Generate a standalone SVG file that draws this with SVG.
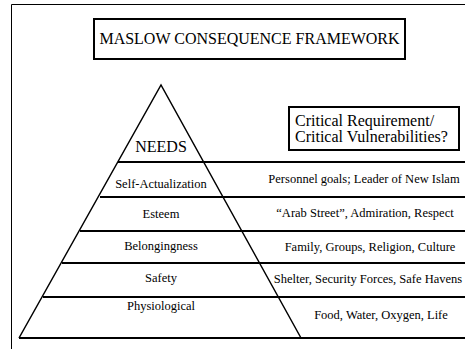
<svg xmlns="http://www.w3.org/2000/svg" width="465" height="349" viewBox="0 0 465 349">
<style>
text{font-family:'Liberation Serif','DejaVu Serif','Times New Roman',serif;fill:#000}
.big{font-size:16px}
.sm{font-size:12.5px}
.ln{stroke:#000;stroke-width:2;fill:none}
.box{stroke:#000;stroke-width:2;fill:#fff}
</style>
<rect width="465" height="349" fill="#fff"/>
<g id="frame"><path d="M11.5,349 V4.5 H465" stroke="#000" stroke-width="1" fill="none"/></g>
<g id="title">
<rect class="box" x="94" y="19" width="311" height="40"/>
<text class="big" x="249.5" y="44" text-anchor="middle" font-family="Liberation Serif, serif">MASLOW CONSEQUENCE FRAMEWORK</text>
</g>
<g id="critical">
<rect class="box" x="289" y="107" width="170" height="43"/>
<text class="big" x="295" y="126">Critical Requirement/</text>
<text class="big" x="295" y="142">Critical Vulnerabilities?</text>
</g>
<g id="connectors">
<path d="M19,338 L161,85 L301,338" stroke="#000" stroke-width="1.5" fill="none"/>
<path class="ln" d="M118,162 H465 M100,197 H465 M80,231 H465 M62,263 H465 M43,297 H465 M19,338 H465"/>
</g>
<g id="needs"><text class="big" x="161" y="152" text-anchor="middle">NEEDS</text></g>
<g id="self"><text class="sm" x="161" y="188" text-anchor="middle">Self-Actualization</text>
<text class="sm" x="364" y="183" text-anchor="middle">Personnel goals; Leader of New Islam</text></g>
<g id="esteem"><text class="sm" x="161" y="218" text-anchor="middle">Esteem</text>
<text class="sm" x="365" y="217" text-anchor="middle">“Arab Street”, Admiration, Respect</text></g>
<g id="belong"><text class="sm" x="161" y="250" text-anchor="middle">Belongingness</text>
<text class="sm" x="370" y="251" text-anchor="middle">Family, Groups, Religion, Culture</text></g>
<g id="safety"><text class="sm" x="161" y="282" text-anchor="middle">Safety</text>
<text class="sm" x="368" y="283" text-anchor="middle">Shelter, Security Forces, Safe Havens</text></g>
<g id="phys"><text class="sm" x="161" y="310" text-anchor="middle">Physiological</text>
<text class="sm" x="381" y="319" text-anchor="middle">Food, Water, Oxygen, Life</text></g>
</svg>
